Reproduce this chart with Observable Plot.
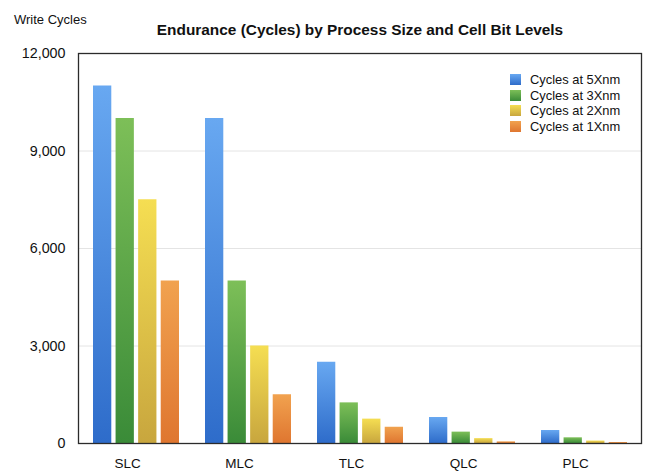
<!DOCTYPE html>
<html>
<head>
<meta charset="utf-8">
<script src="https://cdn.jsdelivr.net/npm/d3@7"></script>
<script src="https://cdn.jsdelivr.net/npm/@observablehq/plot@0.6"></script>
<style>
  html, body { margin: 0; padding: 0; background: #fff; }
  #wrap { position: relative; width: 650px; height: 474px; font-family: "Liberation Sans", Arial, Helvetica, sans-serif; color: #111; }
  #header { position: relative; height: 40px; }
  #ylabel { position: absolute; left: 14px; top: 12px; font-size: 13px; }
  #title { position: absolute; left: 0; width: 720px; top: 21px; text-align: center; font-size: 15.4px; font-weight: bold; }
  #legend { position: absolute; left: 510px; top: 72px; font-size: 12.9px; }
  .row { display: flex; align-items: center; height: 15.5px; }
  .sw { width: 11px; height: 11px; margin-right: 9px; }
</style>
</head>
<body>
<div id="wrap">
  <div id="header"><div id="ylabel">Write Cycles</div><div id="title">Endurance (Cycles) by Process Size and Cell Bit Levels</div></div>
  <div id="chart"></div>
  <div id="legend"></div>
</div>
<script>
const categories = ["SLC", "MLC", "TLC", "QLC", "PLC"];
const series = ["Cycles at 5Xnm", "Cycles at 3Xnm", "Cycles at 2Xnm", "Cycles at 1Xnm"];
const cycles5X = [11000, 10000, 2500, 800, 400];
const cycles3X = [10000, 5000, 1250, 350, 175];
const cycles2X = [7500, 3000, 750, 150, 75];
const cycles1X = [5000, 1500, 500, 50, 30];
const yTicks = [0, 3000, 6000, 9000, 12000];
const gridTicks = [3000, 6000, 9000];

const seriesValues = [cycles5X, cycles3X, cycles2X, cycles1X];
const topColors = ["#68a8f1", "#7dbf58", "#f5de52", "#f1a24f"];
const bottomColors = ["#2e6cca", "#3a8b38", "#c8a63e", "#df7630"];

const data = [];
series.forEach((s, i) => categories.forEach((c, j) => data.push({category: c, series: s, si: i, value: seriesValues[i][j]})));

const barW = 18.3, gap = 4.27, bw = 4 * barW + 3 * gap;

const barMarks = series.map((s, i) => Plot.barY(data.filter(d => d.si === i), {
  x: "category", y: "value",
  fill: `url(#grad${i})`,
  insetLeft: i * (barW + gap),
  insetRight: bw - i * (barW + gap) - barW
}));

const svg = Plot.plot({
  width: 650,
  height: 434,
  marginLeft: 78,
  marginRight: 9,
  marginTop: 13,
  marginBottom: 31,
  style: {fontFamily: "'Liberation Sans', Arial, Helvetica, sans-serif", fontSize: "13px", color: "#111", background: "#fff"},
  x: {domain: categories, paddingInner: 0.236, paddingOuter: 0.118, label: null, tickSize: 0, tickPadding: 15},
  y: {domain: [0, 12000], ticks: yTicks, tickFormat: d3.format(","), label: null, tickSize: 0, tickPadding: 13},
  marks: [
    Plot.ruleY(gridTicks, {stroke: "#e4e4e4", strokeWidth: 1}),
    ...barMarks,
    Plot.axisX({tickSize: 0, tickPadding: 15, dx: -9, fontSize: 13.5, label: null}),
    Plot.axisY({ticks: yTicks, tickFormat: d3.format(","), tickSize: 0, tickPadding: 13, fontSize: 14.3, label: null}),
    Plot.frame({stroke: "#2b2b2b", strokeWidth: 1.3})
  ]
});

const defs = d3.select(svg).insert("defs", ":first-child");
series.forEach((s, i) => {
  const g = defs.append("linearGradient").attr("id", `grad${i}`).attr("x1", 0).attr("y1", 0).attr("x2", 0).attr("y2", 1);
  g.append("stop").attr("offset", "0%").attr("stop-color", topColors[i]);
  g.append("stop").attr("offset", "100%").attr("stop-color", bottomColors[i]);
});
d3.select(svg).selectAll("text").attr("fill", "#111");
document.getElementById("chart").appendChild(svg);

const legend = d3.select("#legend");
series.forEach((s, i) => {
  const row = legend.append("div").attr("class", "row");
  row.append("div").attr("class", "sw").style("background", `linear-gradient(${topColors[i]}, ${bottomColors[i]})`);
  row.append("div").text(s);
});
</script>
</body>
</html>
